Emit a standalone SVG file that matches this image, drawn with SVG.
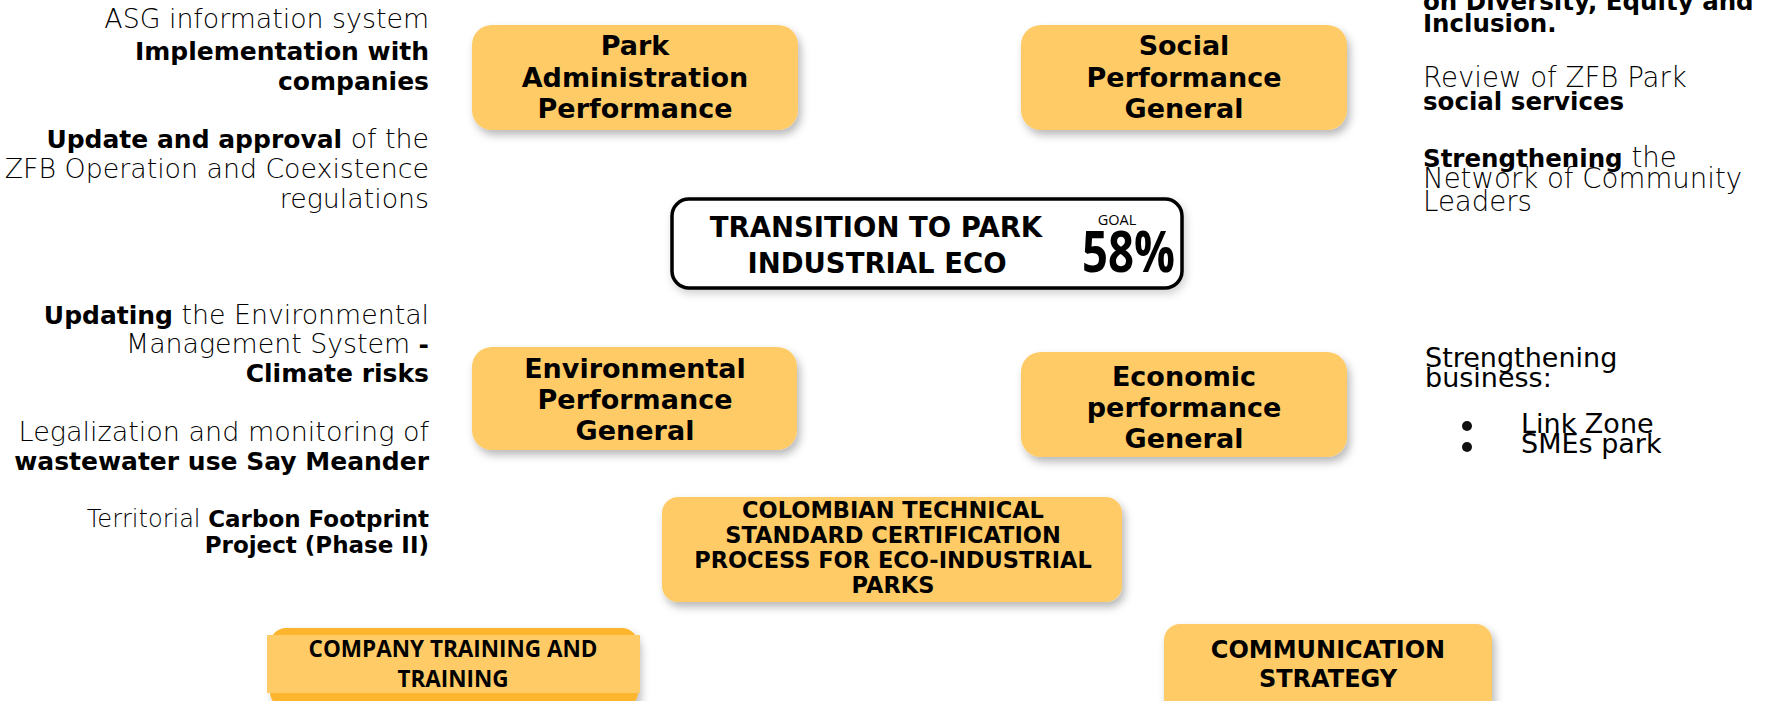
<svg xmlns="http://www.w3.org/2000/svg" width="1779" height="701" viewBox="0 0 1779 701">
  <defs>
    <filter id="sh" x="-10%" y="-20%" width="125%" height="150%">
      <feDropShadow dx="3" dy="5" stdDeviation="4" flood-color="#000" flood-opacity="0.28"/>
    </filter>
    <filter id="sh2" x="-10%" y="-20%" width="125%" height="150%">
      <feDropShadow dx="2" dy="4" stdDeviation="4" flood-color="#000" flood-opacity="0.18"/>
    </filter>
  </defs>
  <style>
    .box { fill: #FFCB66; filter: url(#sh); }
    .bt { font-family: "DejaVu Sans", "Noto Sans", sans-serif; font-weight: 700; font-size: 27px; fill: #000; text-anchor: middle; }
    .cap { font-family: "DejaVu Sans", "Noto Sans", sans-serif; font-weight: 700; font-size: 22.5px; fill: #000; text-anchor: middle; }
    .os { font-family: "Open Sans", "Noto Sans", sans-serif; fill: #000; }
    .lt { font-family: "DejaVu Sans", "Noto Sans", sans-serif; font-weight: 300; font-size: 26.8px; fill: #000; }
    .rt { font-family: "DejaVu Sans", "Noto Sans", sans-serif; font-weight: 300; font-size: 27.6px; fill: #000; }
    .b { font-weight: 700; font-size: 25px; fill: #000; }
    .rb { font-weight: 700; font-size: 24.5px; fill: #000; }
    .end { text-anchor: end; }
  </style>
  <rect width="1779" height="701" fill="#fff"/>

  <g id="connectors"/>

  <g id="left-admin-notes">
    <text class="lt end" x="429" y="28">ASG information system</text>
    <text class="lt end" x="429" y="60"><tspan class="b">Implementation with</tspan></text>
    <text class="lt end" x="429" y="90"><tspan class="b">companies</tspan></text>
    <text class="lt end" x="429" y="148"><tspan class="b">Update and approval</tspan> of the</text>
    <text class="lt end" x="429" y="178">ZFB Operation and Coexistence</text>
    <text class="lt end" x="429" y="208">regulations</text>
  </g>

  <g id="left-env-notes">
    <text class="lt end" x="429" y="324"><tspan class="b">Updating</tspan> the Environmental</text>
    <text class="lt end" x="429" y="353">Management System <tspan class="b">-</tspan></text>
    <text class="lt end" x="429" y="382"><tspan class="b">Climate risks</tspan></text>
    <text class="lt end" x="429" y="441" style="font-size:27px">Legalization and monitoring of</text>
    <text class="lt end" x="429" y="470"><tspan class="b">wastewater use Say Meander</tspan></text>
    <text class="lt end" x="429" y="527" style="font-size:24px">Territorial <tspan class="b" style="font-size:23px">Carbon Footprint</tspan></text>
    <text class="lt end" x="429" y="553"><tspan class="b" style="font-size:23px">Project (Phase II)</tspan></text>
  </g>

  <g id="right-social-notes">
    <text class="rt" x="1423" y="10"><tspan class="rb">on Diversity, Equity and</tspan></text>
    <text class="rt" x="1423" y="32"><tspan class="rb">Inclusion.</tspan></text>
    <text class="rt" x="1423" y="87">Review of ZFB Park</text>
    <text class="rt" x="1423" y="110"><tspan class="rb">social services</tspan></text>
    <text class="rt" x="1423" y="167"><tspan class="rb">Strengthening</tspan> the</text>
    <text class="rt" x="1423" y="188">Network of Community</text>
    <text class="rt" x="1423" y="211">Leaders</text>
  </g>

  <g id="right-econ-notes">
    <text class="rt" x="1425" y="367" style="font-weight:400;font-size:27px">Strengthening</text>
    <text class="rt" x="1425" y="387" style="font-weight:400;font-size:27px">business:</text>
    <circle cx="1467" cy="426" r="5" fill="#111"/>
    <circle cx="1467" cy="447" r="5" fill="#111"/>
    <text class="rt" x="1521" y="433" style="font-weight:400;font-size:27px">Link Zone</text>
    <text class="rt" x="1521" y="453" style="font-weight:400;font-size:27px">SMEs park</text>
  </g>

  <g id="node-park-admin">
    <rect class="box" x="472" y="25" width="326" height="105" rx="20"/>
    <text class="bt" x="635" y="55">Park</text>
    <text class="bt" x="635" y="87">Administration</text>
    <text class="bt" x="635" y="118">Performance</text>
  </g>

  <g id="node-social">
    <rect class="box" x="1021" y="25" width="326" height="105" rx="20"/>
    <text class="bt" x="1184" y="55">Social</text>
    <text class="bt" x="1184" y="87">Performance</text>
    <text class="bt" x="1184" y="118">General</text>
  </g>

  <g id="node-center">
    <rect x="672" y="199" width="510" height="89" rx="17" fill="#fff" stroke="#000" stroke-width="3.5" filter="url(#sh2)"/>
    <text class="bt" x="876" y="237" style="font-size:27.5px">TRANSITION TO PARK</text>
    <text class="bt" x="877" y="273" style="font-size:27.5px">INDUSTRIAL ECO</text>
    <text class="os" x="1117" y="225" text-anchor="middle" style="font-size:14.5px">GOAL</text>
    <text class="os" x="1082" y="272" textLength="93" lengthAdjust="spacingAndGlyphs" style="font-size:58px;font-weight:700">58%</text>
  </g>

  <g id="node-environmental">
    <rect class="box" x="472" y="347" width="325" height="103" rx="20"/>
    <text class="bt" x="635" y="378">Environmental</text>
    <text class="bt" x="635" y="409">Performance</text>
    <text class="bt" x="635" y="440">General</text>
  </g>

  <g id="node-economic">
    <rect class="box" x="1021" y="352" width="326" height="105" rx="20"/>
    <text class="bt" x="1184" y="386">Economic</text>
    <text class="bt" x="1184" y="417">performance</text>
    <text class="bt" x="1184" y="448">General</text>
  </g>

  <g id="node-certification">
    <rect class="box" x="662" y="497" width="460" height="105" rx="16"/>
    <text class="cap" x="893" y="518">COLOMBIAN TECHNICAL</text>
    <text class="cap" x="893" y="543">STANDARD CERTIFICATION</text>
    <text class="cap" x="893" y="568">PROCESS FOR ECO-INDUSTRIAL</text>
    <text class="cap" x="893" y="593">PARKS</text>
  </g>

  <g id="node-company-training">
    <rect x="270" y="628" width="368" height="80" rx="16" fill="#FDB52E" filter="url(#sh)"/>
    <rect x="267" y="635" width="373" height="58" fill="#FFCB66"/>
    <text class="os" x="453" y="657" text-anchor="middle" style="font-size:22.5px;font-weight:700">COMPANY TRAINING AND</text>
    <text class="os" x="453" y="687" text-anchor="middle" style="font-size:22.5px;font-weight:700">TRAINING</text>
  </g>

  <g id="node-communication">
    <rect class="box" x="1164" y="624" width="328" height="90" rx="16"/>
    <text class="bt" x="1328" y="658" style="font-size:24px">COMMUNICATION</text>
    <text class="bt" x="1328" y="687" style="font-size:24px">STRATEGY</text>
  </g>
</svg>
